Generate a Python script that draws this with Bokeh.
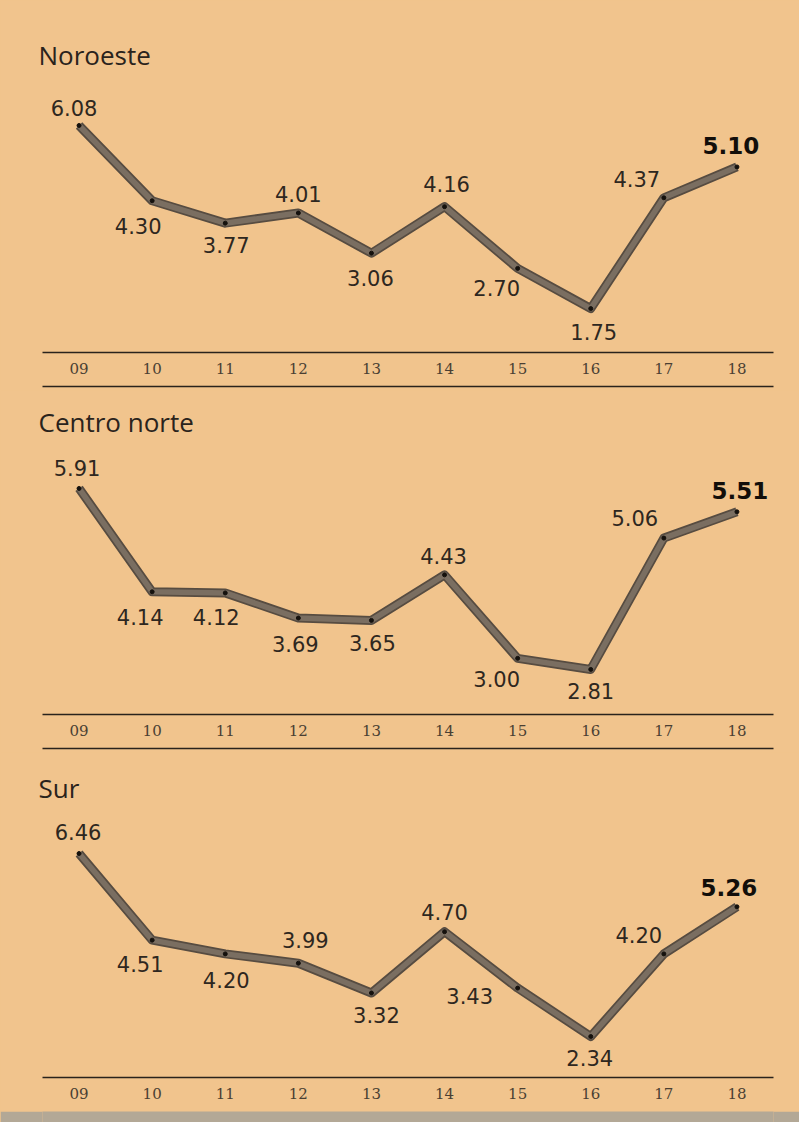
from bokeh.plotting import figure
from bokeh.models import ColumnDataSource, CategoricalAxis, FactorRange, Range1d
from bokeh.layouts import column
from bokeh.embed import file_html
from bokeh.resources import INLINE
from bokeh.core.properties import value

# ---- data ----
years = ["09", "10", "11", "12", "13", "14", "15", "16", "17", "18"]
regions = ["Noroeste", "Centro norte", "Sur"]
noroeste = [6.08, 4.30, 3.77, 4.01, 3.06, 4.16, 2.70, 1.75, 4.37, 5.10]
centro_norte = [5.91, 4.14, 4.12, 3.69, 3.65, 4.43, 3.00, 2.81, 5.06, 5.51]
sur = [6.46, 4.51, 4.20, 3.99, 3.32, 4.70, 3.43, 2.34, 4.20, 5.26]
series = [noroeste, centro_norte, sur]

# ---- label placement (screen px offsets, style only) ----
offsets = [
    [(-5, -17), (-14, 25), (1, 22), (0, -19), (-1, 25), (2, -23), (-21, 20), (3, 23), (-27, -19), (-6, -21)],
    [(-2, -20), (-12, 25), (-9, 24), (-3, 26), (1, 23), (-1, -19), (-21, 21), (0, 22), (-29, -20), (3, -21)],
    [(-1, -22), (-12, 24), (1, 26), (7, -23), (5, 22), (0, -20), (-48, 8), (-1, 21), (-25, -19), (-8, -19)],
]
# panel geometry: (border_top, frame_height, border_bottom, top_pad, bottom_pad, separator)
geom = [
    (73, 279, 38, 0.284, 0.240, True),
    (50, 274, 38, 0.265, 0.249, True),
    (54, 271, 31, 0.257, 0.224, False),
]

BG = "#f1c48d"
INK = "#2a231c"
W = 799

figs = []
for name, vals, offs, (bt, fh, bb, tp, bp, sep) in zip(regions, series, offsets, geom):
    lo, hi = min(vals), max(vals)
    span = hi - lo
    p = figure(x_range=FactorRange(*years), y_range=Range1d(lo - bp * span, hi + tp * span),
               frame_width=731, frame_height=fh,
               min_border_left=42, min_border_right=26, min_border_top=bt, min_border_bottom=bb,
               toolbar_location=None, output_backend="svg", y_axis_location=None,
               background_fill_color=BG, border_fill_color=BG, outline_line_color=None)
    p.xgrid.grid_line_color = None
    p.ygrid.grid_line_color = None
    p.x_range.range_padding = 0

    p.title.text = name
    p.title.align = "left"
    p.title.offset = -4
    p.title.standoff = 2
    p.title.text_font = "Open Sans"
    p.title.text_font_size = "26px"
    p.title.text_font_style = "normal"
    p.title.text_color = INK

    ax = p.xaxis[0]
    ax.axis_line_color = INK
    ax.axis_line_width = 1.3
    ax.major_tick_line_color = None
    ax.minor_tick_line_color = None
    ax.major_tick_out = 0
    ax.major_tick_in = 0
    ax.major_label_standoff = 10
    ax.major_label_text_font = "DejaVu Serif"
    ax.major_label_text_font_size = "15px"
    ax.major_label_text_color = "#4a3f33"
    ax.axis_label = " "
    ax.axis_label_standoff = 0
    ax.axis_label_text_font_size = "7px"

    if sep:
        ax2 = CategoricalAxis(axis_line_color=INK, axis_line_width=1.3,
                              major_tick_line_color=None, minor_tick_line_color=None,
                              major_tick_out=0, major_tick_in=0, major_label_standoff=0,
                              major_label_text_font_size="0px", major_label_text_alpha=0)
        p.add_layout(ax2, "below")

    dx = [o[0] for o in offs]
    dy = [o[1] for o in offs]
    labels = ["%.2f" % v for v in vals]
    fstyle = ["normal"] * (len(vals) - 1) + ["bold"]
    fsize = ["21px"] * (len(vals) - 1) + ["23px"]
    fcol = ["#2e2720"] * (len(vals) - 1) + ["#120e0a"]
    src = ColumnDataSource(dict(x=years, y=vals, lab=labels, dx=dx, dy=dy,
                                fstyle=fstyle, fsize=fsize, fcol=fcol))

    p.line("x", "y", source=src, line_color="#574c41", line_width=9, line_join="round")
    p.line("x", "y", source=src, line_color="#7a6e61", line_width=5.5, line_join="round")
    p.scatter("x", "y", source=src, size=4, color="#15110d")
    p.text("x", "y", text="lab", source=src, x_offset="dx", y_offset="dy",
           text_align="center", text_baseline="middle",
           text_font=value("DejaVu Sans"), text_font_size="fsize",
           text_font_style="fstyle", text_color="fcol")
    figs.append(p)

band = figure(width=W, height=14, toolbar_location=None, output_backend="svg",
              x_axis_location=None, y_axis_location=None, min_border=0,
              background_fill_color="#b3a896", border_fill_color="#b3a896",
              outline_line_color=None)
band.xgrid.grid_line_color = None
band.ygrid.grid_line_color = None
figs.append(band)

layout = column(*figs, spacing=0, styles={"background-color": BG})
open("out.html", "w").write(file_html(layout, INLINE))
